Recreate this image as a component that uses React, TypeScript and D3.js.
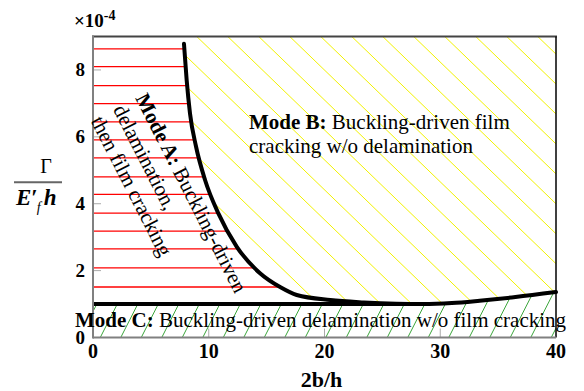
import { useEffect, useRef } from 'react';
import * as d3 from 'd3';

const WIDTH = 584;
const HEIGHT = 391;
const SERIF = "'Liberation Serif', 'Times New Roman', Times, serif";

const xTickValues = [0, 10, 20, 30, 40];
const yTickValues = [0, 2, 4, 6, 8];

// mode boundary: x = 2b/h, y = Γ/(E'f h) in units of 1e-4
const boundaryX = [7.86, 8.09, 8.38, 8.9, 9.68, 10.83, 12.41, 14.43, 16.2, 17.6, 20.5, 23.4, 26.2, 28.5, 31, 33.4, 36.5, 40];
const boundaryY = [8.78, 7.7, 6.7, 5.71, 4.71, 3.71, 2.72, 1.92, 1.5, 1.27, 1.12, 1.05, 1.01, 1.0, 1.03, 1.1, 1.21, 1.36];

// delamination threshold (flat line) and where it joins the curve
const delaminationLevel = 1.0;
const joinX = 28.5;

// horizontal fill lines of the Mode A region
const modeALevels = [1.51, 2.08, 2.65, 3.18, 3.72, 4.28, 4.8, 5.37, 5.91, 6.45, 6.99, 7.53, 8.1, 8.63];

type Pt = [number, number];

export default function App() {
  const svgRef = useRef<SVGSVGElement>(null);

  useEffect(() => {
    if (!svgRef.current) return;
    const svg = d3.select(svgRef.current);
    svg.selectAll('*').remove();

    const x = d3.scaleLinear().domain([0, 40]).range([93, 556]);
    const y = d3.scaleLinear().domain([0, 9]).range([337.5, 36.5]);
    const [xMin, xMax] = x.domain();
    const yMax = y.domain()[1];
    const left = x(xMin);
    const right = x(xMax);
    const top = y(yMax);
    const bottom = y(0);

    const pts: Pt[] = boundaryX.map((v, i) => [v, boundaryY[i]]);
    const line = d3
      .line<Pt>()
      .x((d) => x(d[0]))
      .y((d) => y(d[1]))
      .curve(d3.curveMonotoneX);
    const fullPath = line(pts) ?? '';
    const leftBranch = (line(pts.filter((p) => p[0] <= joinX)) ?? '').slice(1);
    const rightBranch = (line(pts.filter((p) => p[0] >= joinX)) ?? '').slice(1);

    const defs = svg.append('defs');
    defs
      .append('clipPath')
      .attr('id', 'clip-a')
      .append('path')
      .attr(
        'd',
        `M${left},${y(delaminationLevel)}L${left},${top}L${x(boundaryX[0])},${top}L${leftBranch}Z`
      );
    defs
      .append('clipPath')
      .attr('id', 'clip-b')
      .append('path')
      .attr('d', `${fullPath}L${right},${top}L${x(boundaryX[0])},${top}Z`);
    defs
      .append('clipPath')
      .attr('id', 'clip-c')
      .append('path')
      .attr(
        'd',
        `M${left},${bottom}L${left},${y(delaminationLevel)}L${x(joinX)},${y(delaminationLevel)}L${rightBranch}L${right},${bottom}Z`
      );

    // hatching helper: parallel lines through (start + k*gap, oy)
    const hatch = (
      clipId: string,
      colour: string,
      angle: number,
      gap: number,
      ox: number,
      oy: number
    ) => {
      const a = (angle * Math.PI) / 180;
      const dx = Math.cos(a) * 700;
      const dy = Math.sin(a) * 700;
      const offsets = d3.range(ox - 40 * gap, ox + 40 * gap, gap);
      svg
        .append('g')
        .attr('clip-path', `url(#${clipId})`)
        .selectAll('line')
        .data(offsets)
        .join('line')
        .attr('x1', (d) => d - dx)
        .attr('y1', oy - dy)
        .attr('x2', (d) => d + dx)
        .attr('y2', oy + dy)
        .attr('stroke', colour)
        .attr('stroke-width', 1);
    };

    hatch('clip-b', '#f2f200', 44, 31, 198.3, 38);
    hatch('clip-c', '#3aa53a', -63, 20.5, 100, 338);

    svg
      .append('g')
      .attr('clip-path', 'url(#clip-a)')
      .selectAll('line')
      .data(modeALevels)
      .join('line')
      .attr('x1', left)
      .attr('x2', right)
      .attr('y1', (d) => y(d))
      .attr('y2', (d) => y(d))
      .attr('stroke', '#ff0000')
      .attr('stroke-width', 1.3);

    // ticks
    svg
      .append('g')
      .selectAll('line')
      .data(yTickValues.slice(1))
      .join('line')
      .attr('x1', left)
      .attr('x2', left + 8)
      .attr('y1', (d) => y(d))
      .attr('y2', (d) => y(d))
      .attr('stroke', '#aaaaaa')
      .attr('stroke-width', 1);
    svg
      .append('g')
      .selectAll('line')
      .data(xTickValues.slice(1, -1))
      .join('line')
      .attr('x1', (d) => x(d))
      .attr('x2', (d) => x(d))
      .attr('y1', bottom)
      .attr('y2', bottom - 9)
      .attr('stroke', '#aaaaaa')
      .attr('stroke-width', 1);

    // boundaries
    svg
      .append('line')
      .attr('x1', left)
      .attr('x2', x(joinX))
      .attr('y1', y(delaminationLevel))
      .attr('y2', y(delaminationLevel))
      .attr('stroke', '#000')
      .attr('stroke-width', 4);
    svg
      .append('path')
      .attr('d', fullPath)
      .attr('fill', 'none')
      .attr('stroke', '#000')
      .attr('stroke-width', 4)
      .attr('stroke-linecap', 'round');

    // frame
    svg.append('line').attr('x1', left - 1).attr('x2', right + 1).attr('y1', top).attr('y2', top).attr('stroke', '#444').attr('stroke-width', 2);
    svg.append('line').attr('x1', right).attr('x2', right).attr('y1', top).attr('y2', bottom).attr('stroke', '#000').attr('stroke-width', 1.5);
    svg.append('line').attr('x1', left).attr('x2', right).attr('y1', bottom).attr('y2', bottom).attr('stroke', '#808080').attr('stroke-width', 1.8);
    svg.append('line').attr('x1', left).attr('x2', left).attr('y1', top - 1).attr('y2', bottom + 1).attr('stroke', '#808080').attr('stroke-width', 2);

    const txt = svg.append('g').attr('font-family', SERIF).attr('fill', '#000');

    // tick labels
    txt
      .append('g')
      .selectAll('text')
      .data(yTickValues)
      .join('text')
      .attr('x', 85)
      .attr('y', (d) => y(d) + 6.5)
      .attr('text-anchor', 'end')
      .attr('font-size', 19)
      .attr('font-weight', 700)
      .text((d) => d);
    txt
      .append('g')
      .selectAll('text')
      .data(xTickValues)
      .join('text')
      .attr('x', (d) => x(d))
      .attr('y', 357.5)
      .attr('text-anchor', 'middle')
      .attr('font-size', 20)
      .attr('font-weight', 700)
      .text((d) => d);

    // axis titles
    txt
      .append('text')
      .attr('x', (left + right) / 2 - 3)
      .attr('y', 387)
      .attr('text-anchor', 'middle')
      .attr('font-size', 22)
      .attr('font-weight', 700)
      .text('2b/h');

    const mult = txt.append('text').attr('x', 74).attr('y', 27).attr('font-weight', 700);
    mult.append('tspan').attr('font-size', 19).text('×10');
    mult.append('tspan').attr('font-size', 14).attr('dy', -7).text('-4');

    txt
      .append('text')
      .attr('x', 46)
      .attr('y', 173)
      .attr('text-anchor', 'middle')
      .attr('font-size', 20)
      .text('Γ');
    txt
      .append('line')
      .attr('x1', 14)
      .attr('x2', 62)
      .attr('y1', 182.3)
      .attr('y2', 182.3)
      .attr('stroke', '#666')
      .attr('stroke-width', 2);
    const denom = txt.append('text').attr('x', 16).attr('y', 205).attr('font-weight', 700);
    denom.append('tspan').attr('font-size', 23).attr('font-style', 'italic').text('E');
    denom.append('tspan').attr('font-size', 23).text('′');
    denom
      .append('tspan')
      .attr('font-size', 14)
      .attr('font-style', 'italic')
      .attr('font-weight', 400)
      .attr('dx', -1)
      .attr('dy', 7)
      .text('f');
    denom
      .append('tspan')
      .attr('font-size', 23)
      .attr('font-style', 'italic')
      .attr('dx', 3)
      .attr('dy', -7)
      .text('h');

    // region labels
    const modeA = txt.append('g').attr('transform', 'translate(135,98) rotate(63)').attr('font-size', 21);
    const a1 = modeA.append('text').attr('x', 0).attr('y', 0);
    a1.append('tspan').attr('font-weight', 700).text('Mode A:');
    a1.append('tspan').text(' Buckling-driven');
    modeA.append('text').attr('x', 0).attr('y', 25).text('delamination,');
    modeA.append('text').attr('x', 0).attr('y', 50).text('then film cracking');

    const b1 = txt.append('text').attr('x', 249).attr('y', 128.7).attr('font-size', 21);
    b1.append('tspan').attr('font-weight', 700).text('Mode B:');
    b1.append('tspan').text(' Buckling-driven film');
    txt.append('text').attr('x', 249).attr('y', 153).attr('font-size', 21).text('cracking w/o delamination');

    const c1 = txt.append('text').attr('x', 75).attr('y', 327).attr('font-size', 21);
    c1.append('tspan').attr('font-weight', 700).text('Mode C:');
    c1.append('tspan').text(' Buckling-driven delamination w/o film cracking');
  }, []);

  return (
    <svg
      ref={svgRef}
      width={WIDTH}
      height={HEIGHT}
      viewBox={`0 0 ${WIDTH} ${HEIGHT}`}
      style={{ position: 'absolute', left: 0, top: 0, display: 'block', background: '#fff' }}
    />
  );
}
